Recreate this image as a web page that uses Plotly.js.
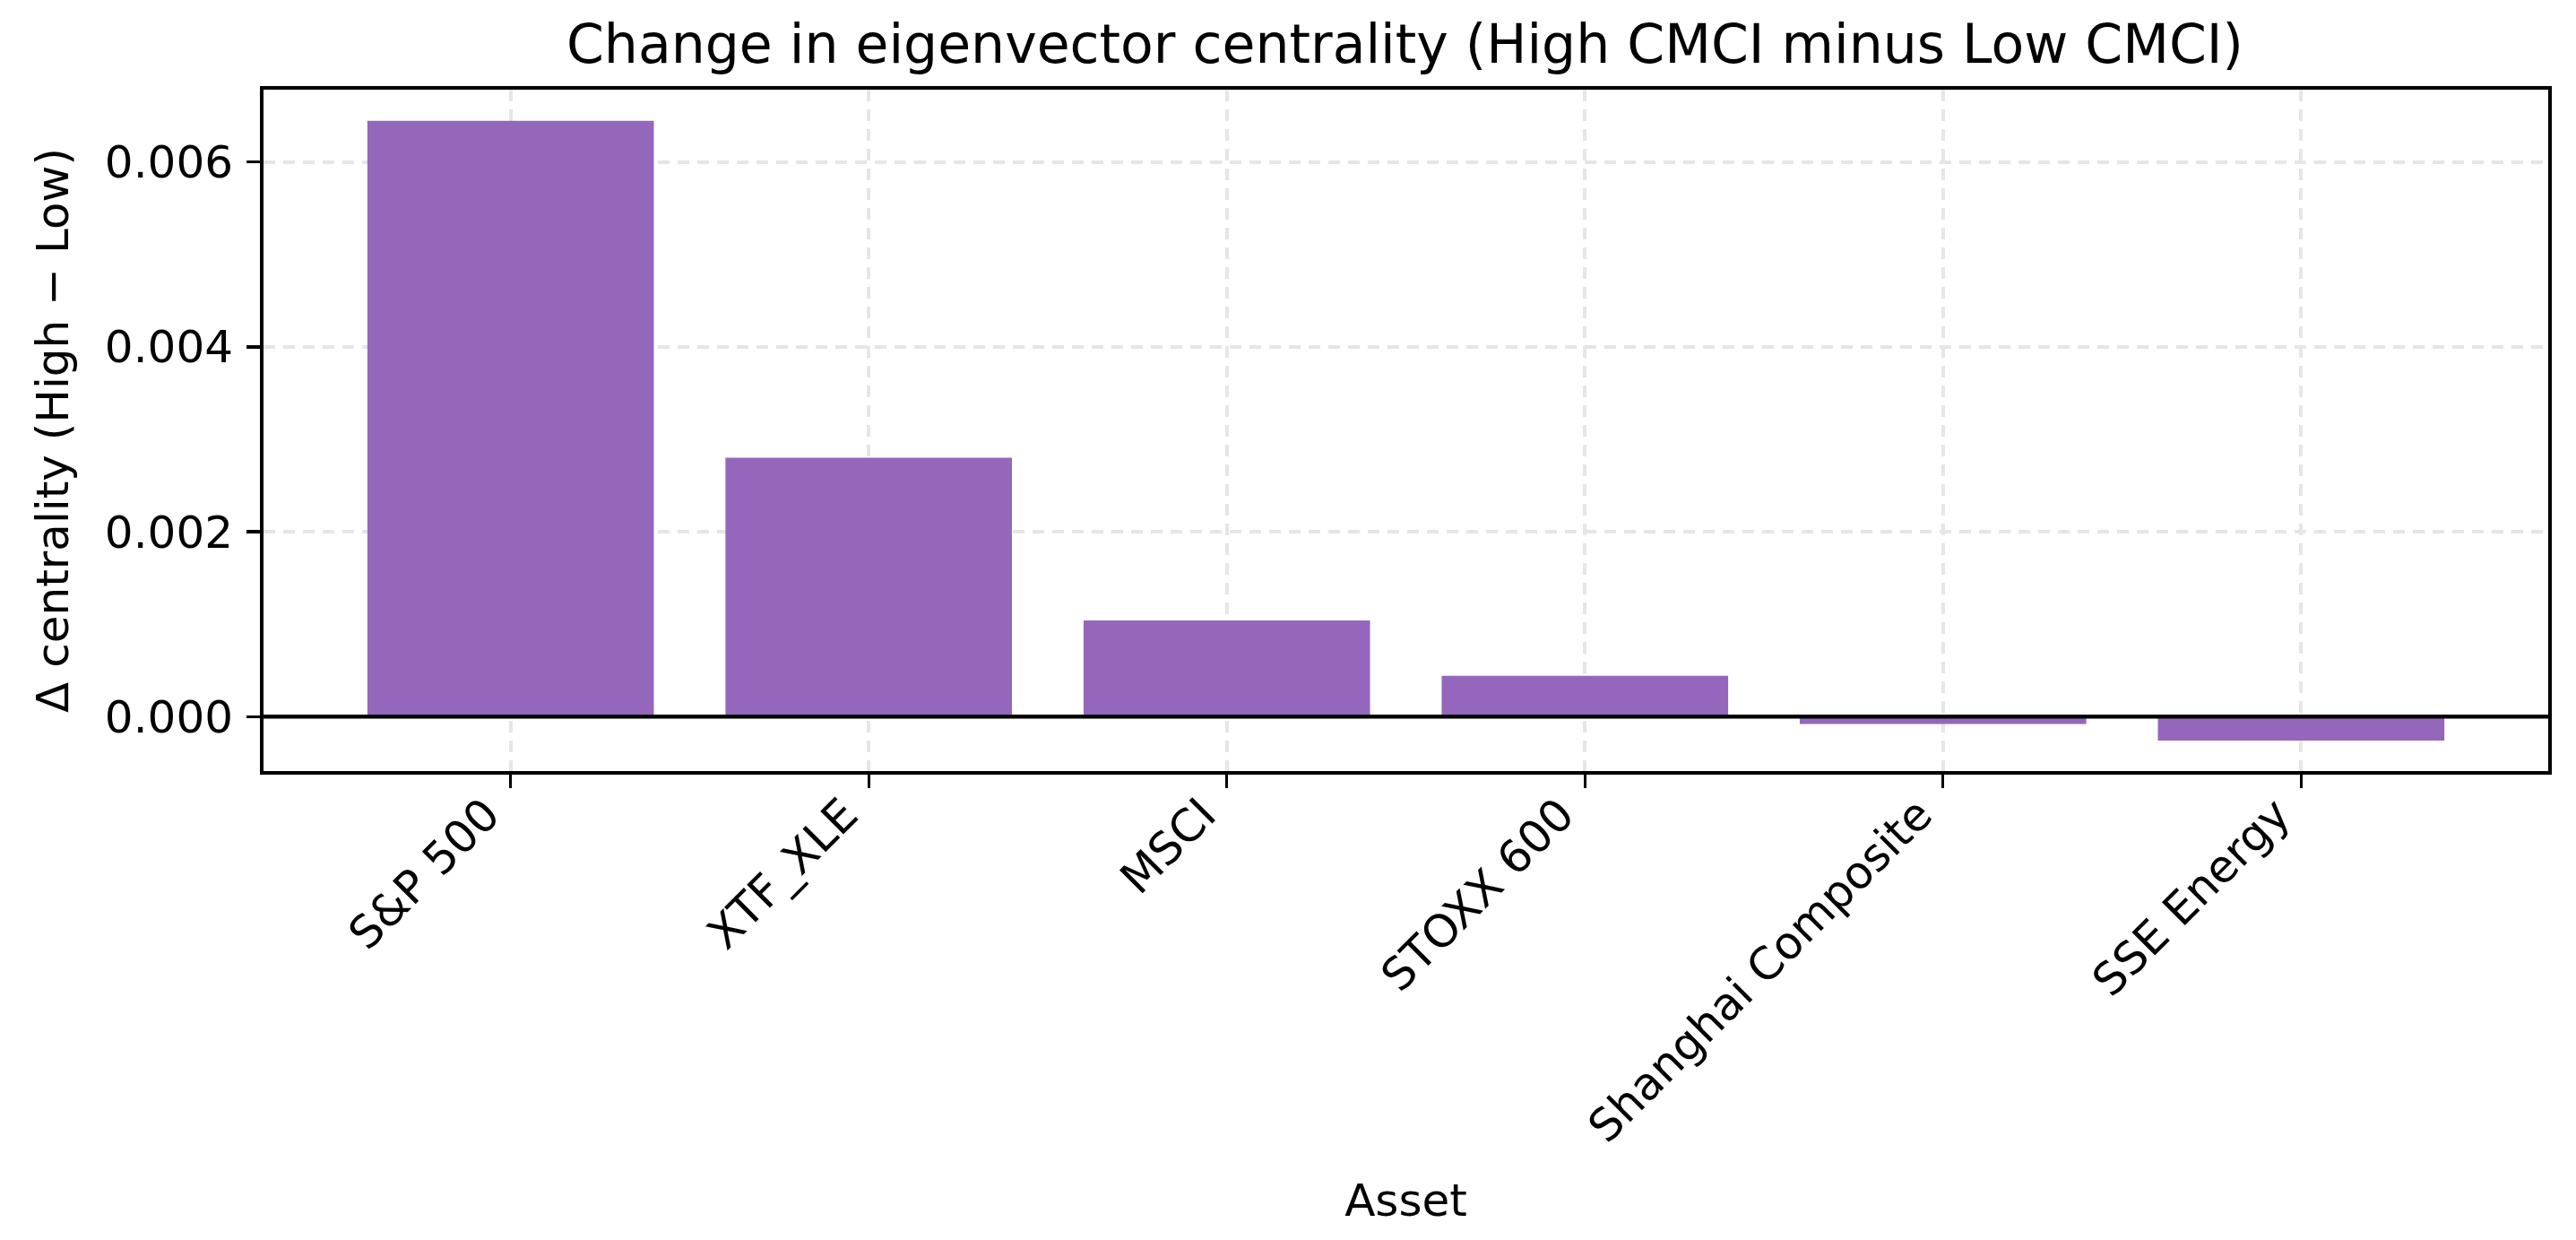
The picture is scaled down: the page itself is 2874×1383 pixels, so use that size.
<!DOCTYPE html>
<html>
<head>
<meta charset="utf-8">
<script src="https://cdn.plot.ly/plotly-3.0.1.min.js"></script>
<style>
  html, body { margin: 0; padding: 0; background: #fff; }
  #chart { width: 2874px; height: 1383px; }
</style>
</head>
<body>
<div id="chart"></div>
<script>
// assets, in plotted order
var assets = ["S&P 500", "XTF_XLE", "MSCI", "STOXX 600", "Shanghai Composite", "SSE Energy"];
// change in eigenvector centrality, High CMCI minus Low CMCI
var deltaCentrality = [0.006445, 0.00280, 0.00104, 0.00044, -0.00008, -0.00026];
var yTicks = [0, 0.002, 0.004, 0.006];

var font = "DejaVu Sans, sans-serif";

var data = [{
    type: "bar",
    x: assets,
    y: deltaCentrality,
    width: 0.8,
    marker: { color: "#9467bd", line: { width: 0 } },
    hoverinfo: "x+y"
}];

var grid = {
    showgrid: true,
    gridcolor: "#e6e6e6",
    gridwidth: 4,
    griddash: "13px,9px"
};

var layout = {
    width: 2874,
    height: 1383,
    margin: { l: 294, r: 31, t: 100, b: 523 },
    paper_bgcolor: "#ffffff",
    plot_bgcolor: "#ffffff",
    showlegend: false,
    font: { family: font, size: 50, color: "#000" },
    title: {
        text: "Change in eigenvector centrality (High CMCI minus Low CMCI)",
        font: { family: font, size: 60, color: "#000" },
        x: 0.5454, xanchor: "center",
        y: 1 - 49 / 1383, yanchor: "middle"
    },
    xaxis: Object.assign({
        type: "category",
        range: [-0.69, 5.69],
        tickangle: -45,
        ticklabelshift: -27,
        ticklabelstandoff: -20,
        ticks: "outside",
        ticklen: 15,
        tickwidth: 3.3,
        tickcolor: "#000",
        tickfont: { family: font, size: 50, color: "#000" },
        showline: true,
        mirror: true,
        linecolor: "#000",
        linewidth: 4,
        zeroline: false,
        title: { text: "Asset", font: { family: font, size: 50, color: "#000" }, standoff: 38 }
    }, grid),
    yaxis: Object.assign({
        range: [-0.00059, 0.006783],
        tickvals: yTicks,
        tickformat: ".3f",
        ticklabelstandoff: 5,
        ticks: "outside",
        ticklen: 15,
        tickwidth: 3.3,
        tickcolor: "#000",
        tickfont: { family: font, size: 50, color: "#000" },
        showline: true,
        mirror: true,
        linecolor: "#000",
        linewidth: 4,
        zeroline: false,
        title: { text: "Δ centrality (High − Low)", font: { family: font, size: 50, color: "#000" }, standoff: 25 }
    }, grid),
    shapes: [{
        type: "line",
        layer: "above",
        xref: "paper", x0: 0, x1: 1,
        yref: "y", y0: 0, y1: 0,
        line: { color: "#000", width: 4.5 }
    }]
};

Plotly.newPlot("chart", data, layout, { displayModeBar: false, staticPlot: true });
</script>
</body>
</html>
